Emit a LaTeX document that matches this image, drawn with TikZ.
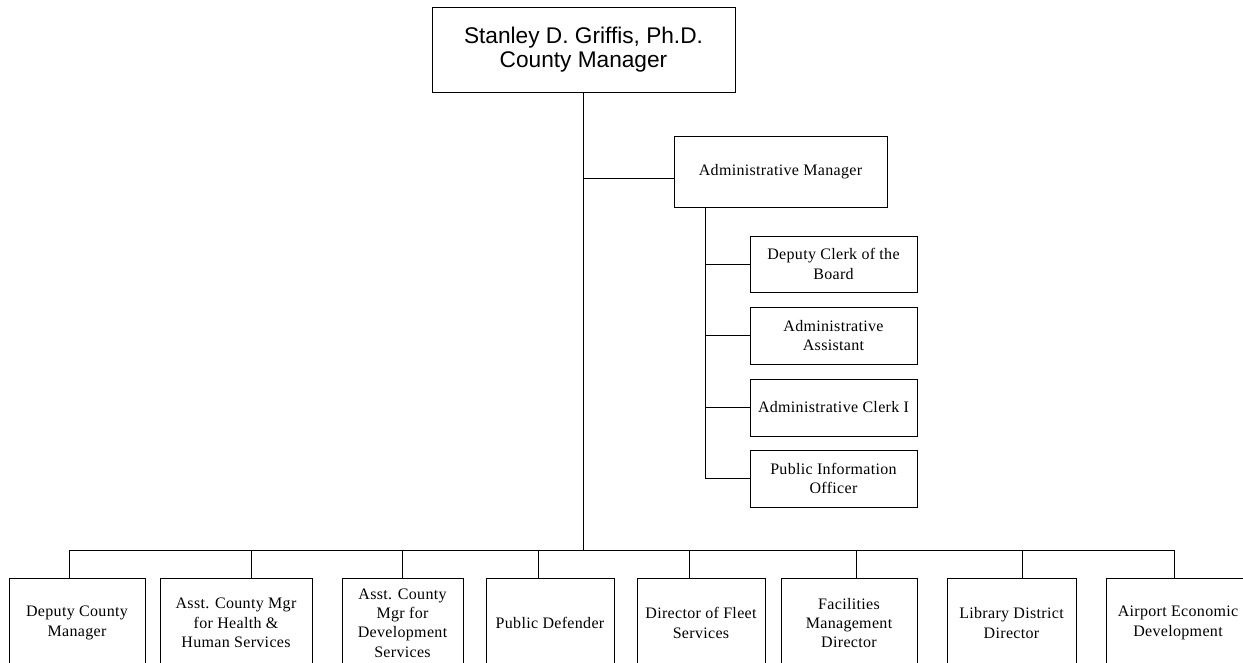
\documentclass[tikz,border=0pt]{standalone}
\usepackage{fontspec}
\setmainfont{Liberation Serif}[LetterSpace=2]
\newfontfamily\arialf{Liberation Sans}
\begin{document}
\begin{tikzpicture}[x=0.75pt,y=-0.75pt,
  box/.style={draw, line width=0.75pt, align=center, inner sep=1pt,
    font=\fontsize{12}{14.5}\selectfont},
  topbox/.style={box, font=\arialf\fontsize{17}{17.5}\selectfont},
  link/.style={line width=0.75pt}]
\useasboundingbox (0,0) rectangle (1243,662);
\clip (0,0) rectangle (1243,662);
% top
\node[topbox, minimum width=303*0.75pt, minimum height=85*0.75pt] (cm) at (583.5,49.5) {Stanley D. Griffis, Ph.D.\\County Manager};
\node[box, minimum width=213*0.75pt, minimum height=71*0.75pt] (am) at (780.5,171.5) {Administrative Manager};
% staff boxes
\node[box, minimum width=167*0.75pt, minimum height=56*0.75pt] (s1) at (833.5,264) {Deputy Clerk of the\\Board};
\node[box, minimum width=167*0.75pt, minimum height=57*0.75pt] (s2) at (833.5,335.5) {Administrative\\Assistant};
\node[box, minimum width=167*0.75pt, minimum height=57*0.75pt] (s3) at (833.5,407.5) {Administrative Clerk I};
\node[box, minimum width=167*0.75pt, minimum height=57*0.75pt] (s4) at (833.5,478.5) {Public Information\\Officer};
% bottom boxes
\node[box, minimum width=136*0.75pt, minimum height=90*0.75pt] (b1) at (77,623) {Deputy County\\Manager};
\node[box, minimum width=152*0.75pt, minimum height=90*0.75pt] (b2) at (236,623) {Asst. County Mgr\\for Health \&\\Human Services};
\node[box, minimum width=121*0.75pt, minimum height=90*0.75pt] (b3) at (402.5,623) {Asst. County\\Mgr for\\Development\\Services};
\node[box, minimum width=128*0.75pt, minimum height=90*0.75pt] (b4) at (550,623) {Public Defender};
\node[box, minimum width=128*0.75pt, minimum height=90*0.75pt] (b5) at (701,623) {Director of Fleet\\Services};
\node[box, minimum width=136*0.75pt, minimum height=90*0.75pt] (b6) at (849,623) {Facilities\\Management\\Director};
\node[box, minimum width=129*0.75pt, minimum height=90*0.75pt] (b7) at (1011.5,623) {Library District\\Director};
\node[box, minimum width=144*0.75pt, minimum height=90*0.75pt] (b8) at (1178,623) {Airport Economic\\Development};
% coordinates
\coordinate (busc) at (583.5,550);
\coordinate (amj) at (583.5,178);
\coordinate (sv) at (705,478);
\coordinate (d1) at (69,550);
\coordinate (d2) at (251,550);
\coordinate (d3) at (402,550);
\coordinate (d4) at (538,550);
\coordinate (d5) at (689,550);
\coordinate (d6) at (856,550);
\coordinate (d7) at (1022,550);
\coordinate (d8) at (1174,550);
% connectors
\draw[link] (cm.south) -- (busc);
\draw[link] (amj) -- (amj -| am.west);
\draw[link] (sv |- am.south) -- (sv);
\foreach \s in {s1,s2,s3,s4} \draw[link] (sv |- \s.west) -- (\s.west);
\draw[link] (d1) -- (d8);
\foreach \i in {1,...,8} \draw[link] (d\i) -- (d\i |- b\i.north);
\end{tikzpicture}
\end{document}
